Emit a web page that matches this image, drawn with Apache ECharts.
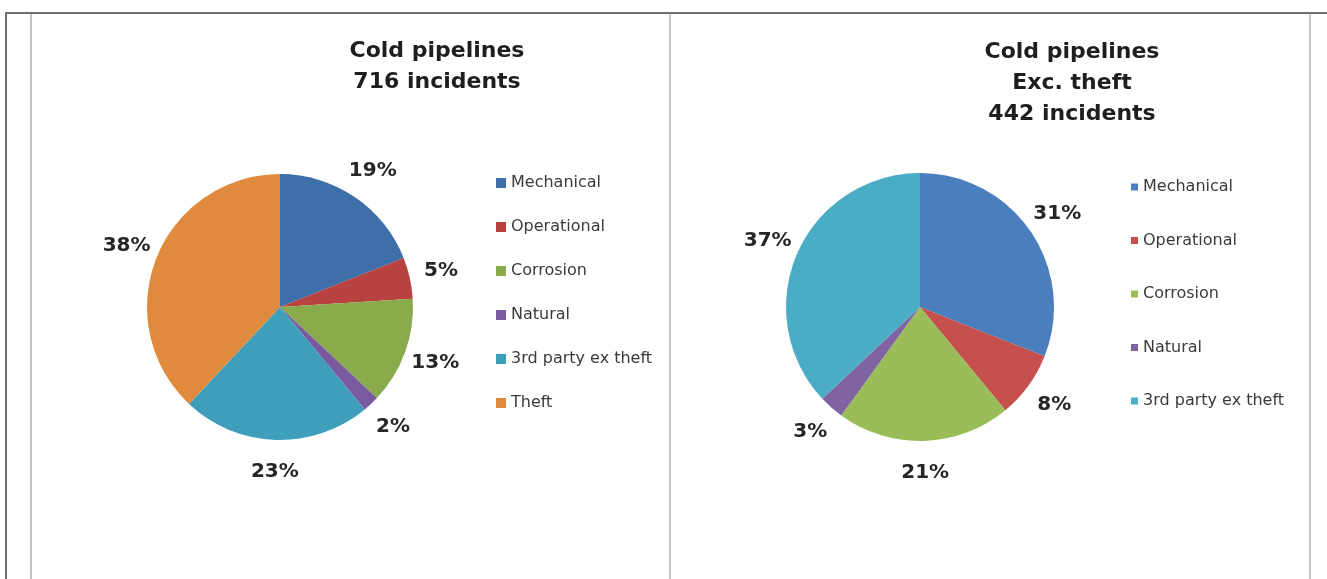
<!DOCTYPE html>
<html>
<head>
<meta charset="utf-8">
<script src="https://cdn.jsdelivr.net/npm/echarts@6/dist/echarts.min.js"></script>
<style>
	html, body { margin: 0; padding: 0; background: #fff; }
	#wrap { position: relative; width: 1327px; height: 579px; overflow: hidden; }
	.frame-top { position: absolute; left: 5px; top: 12px; width: 1322px; height: 2px; background: #6f6f6f; }
	.frame-left { position: absolute; left: 5px; top: 12px; width: 2px; height: 580px; background: #6f6f6f; }
	.panel { position: absolute; top: 14px; height: 580px; border-left: 2px solid #c4c4c4; }
	#chart { position: absolute; left: 0; top: 0; width: 1327px; height: 579px; }
</style>
</head>
<body>
<div id="wrap">
	<div class="frame-top"></div>
	<div class="frame-left"></div>
	<div class="panel" style="left:30px;"></div>
	<div class="panel" style="left:669px;"></div>
	<div class="panel" style="left:1309px;"></div>
	<div id="chart"></div>
</div>
<script>
// left pie: all cold pipeline incidents
var leftTitle = 'Cold pipelines\n716 incidents';
var leftNames = ['Mechanical', 'Operational', 'Corrosion', 'Natural', '3rd party ex theft', 'Theft'];
var leftShares = [19, 5, 13, 2, 23, 38];
var leftColors = ['#3e6fa9', '#b8423f', '#8aab4c', '#7a5a9e', '#3f9eb9', '#e08a3e'];

// right pie: without theft
var rightTitle = 'Cold pipelines\nExc. theft\n442 incidents';
var rightNames = ['Mechanical', 'Operational', 'Corrosion', 'Natural', '3rd party ex theft'];
var rightShares = [31, 8, 21, 3, 37];
var rightColors = ['#4a7ebe', '#c5504d', '#9bbd59', '#8064a2', '#4bacc6'];

var FONT = 'DejaVu Sans';

function pieData(names, values, colors) {
	return names.map(function (n, i) {
		return { name: n, value: values[i], itemStyle: { color: colors[i] } };
	});
}

// a transparent ring outside the pie only carries the centred % labels
function labelRing(names, values, center, r) {
	return {
		type: 'pie',
		silent: true,
		legendHoverLink: false,
		center: center,
		radius: [r + 8, r + 50],
		itemStyle: { color: 'rgba(0,0,0,0)' },
		label: {
			show: true,
			position: 'inside',
			formatter: '{c}%',
			fontFamily: FONT,
			fontSize: 20,
			fontWeight: 'bold',
			color: '#262626'
		},
		labelLine: { show: false },
		emphasis: { disabled: true },
		data: names.map(function (n, i) { return { name: n, value: values[i] }; })
	};
}

function pieSeries(names, values, colors, center, r) {
	return {
		type: 'pie',
		center: center,
		radius: r,
		startAngle: 90,
		clockwise: true,
		label: { show: false },
		labelLine: { show: false },
		emphasis: { disabled: true },
		data: pieData(names, values, colors)
	};
}

function legendOf(names, colors, left, top, icon, gap) {
	return {
		orient: 'vertical',
		left: left,
		top: top,
		icon: 'rect',
		itemWidth: icon,
		itemHeight: icon,
		itemGap: gap,
		selectedMode: false,
		textStyle: { fontFamily: FONT, fontSize: 16, color: '#3a3a3a', lineHeight: 20 },
		data: names.map(function (n, i) { return { name: n, itemStyle: { color: colors[i] } }; })
	};
}

var chart = echarts.init(document.getElementById('chart'), null, { renderer: 'canvas' });
chart.setOption({
	animation: false,
	title: [
		{
			text: leftTitle, left: 432, top: 31, textAlign: 'center',
			textStyle: { fontFamily: FONT, fontSize: 22, fontWeight: 'bold', color: '#1e1e1e', lineHeight: 31 }
		},
		{
			text: rightTitle, left: 1067, top: 32, textAlign: 'center',
			textStyle: { fontFamily: FONT, fontSize: 22, fontWeight: 'bold', color: '#1e1e1e', lineHeight: 31 }
		}
	],
	legend: [
		legendOf(leftNames, leftColors, 491, 168, 10, 24),
		legendOf(rightNames, rightColors, 1126, 172, 7, 33.5)
	],
	series: [
		pieSeries(leftNames, leftShares, leftColors, [280, 307], 133),
		pieSeries(rightNames, rightShares, rightColors, [920, 307], 134),
		labelRing(leftNames, leftShares, [280, 307], 133),
		labelRing(rightNames, rightShares, [920, 307], 134)
	]
});
</script>
</body>
</html>
